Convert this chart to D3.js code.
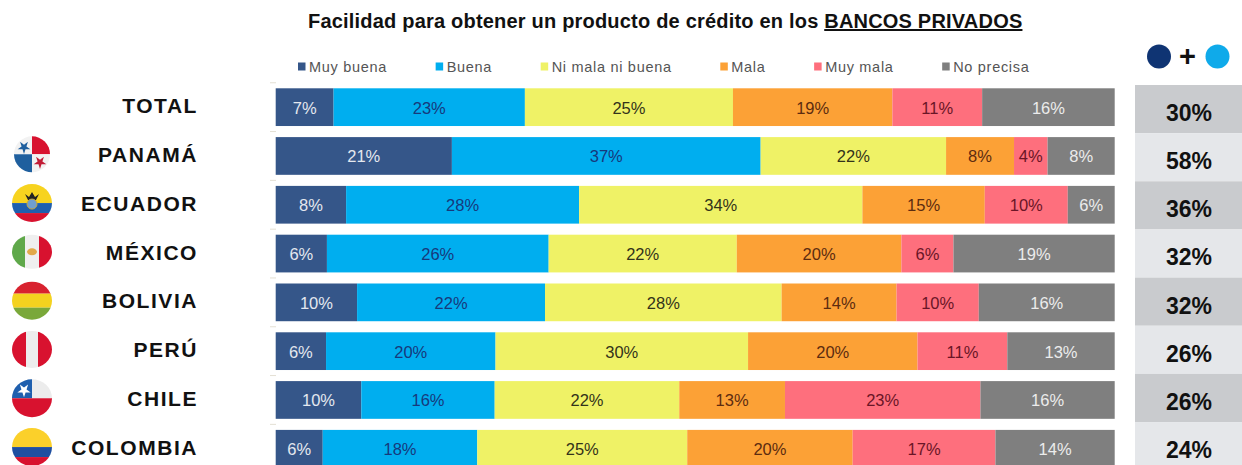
<!DOCTYPE html>
<html>
<head>
<meta charset="utf-8">
<script src="https://cdn.jsdelivr.net/npm/d3@7"></script>
<style>
  html, body { margin: 0; padding: 0; background: #fff; overflow: hidden; }
  svg { display: block; font-family: "Liberation Sans", Arial, sans-serif; }
</style>
</head>
<body>
<svg id="chart"></svg>
<script>
// datos
const paises = ['TOTAL', 'PANAMÁ', 'ECUADOR', 'MÉXICO', 'BOLIVIA', 'PERÚ', 'CHILE', 'COLOMBIA'];
const categorias = ['Muy buena', 'Buena', 'Ni mala ni buena', 'Mala', 'Muy mala', 'No precisa'];
const muyBuena = [6.9, 21.0, 8.4, 6.1, 9.7, 6.0, 10.2, 5.6];
const buena = [22.8, 36.8, 27.8, 26.4, 22.4, 20.2, 15.9, 18.4];
const niMalaNiBuena = [24.8, 22.1, 33.8, 22.4, 28.2, 30.1, 22.0, 25.0];
const mala = [19.0, 8.1, 14.6, 19.6, 13.7, 20.2, 12.6, 19.7];
const muyMala = [10.7, 4.0, 9.9, 6.2, 9.8, 10.7, 23.3, 17.0];
const noPrecisa = [15.8, 8.0, 5.6, 19.2, 16.2, 12.8, 16.0, 14.2];
const sumaPositiva = [30, 58, 36, 32, 32, 26, 26, 24];

const series = [muyBuena, buena, niMalaNiBuena, mala, muyMala, noPrecisa];
const colores = ['#355689', '#00aeef', '#eff266', '#fca136', '#fe6f7d', '#7f7f7f'];
const coloresTexto = ['#e4e8ef', '#17397c', '#33331a', '#5c2c10', '#6a1526', '#ececec'];

const width = 1242, height = 465;
const step = 48.8;      // filas de barras
const stepCol = 48.15;  // la columna derecha va un poco mas apretada

const svg = d3.select('#chart').attr('width', width).attr('height', height);

const xScale = d3.scaleLinear().domain([0, 1]).range([275.7, 1114.7]);
const yScale = d3.scaleBand().domain(paises)
  .range([82.76, 82.76 + step * paises.length])
  .paddingInner(0.227).paddingOuter(0.1135);
const yCol = d3.scaleBand().domain(paises).range([85, 85 + stepCol * paises.length]);

// titulo
const title = svg.append('text')
  .attr('x', 308).attr('y', 28)
  .attr('font-size', 20).attr('letter-spacing', 0.2).attr('font-weight', 'bold').attr('fill', '#111');
title.append('tspan').text('Facilidad para obtener un producto de crédito en los ');
title.append('tspan').attr('text-decoration', 'underline').text('BANCOS PRIVADOS');

// leyenda
let legendX = 298;
categorias.forEach((c, i) => {
  svg.append('rect').attr('x', legendX).attr('y', 62.5).attr('width', 7.5).attr('height', 8).attr('fill', colores[i]);
  const t = svg.append('text').attr('x', legendX + 11).attr('y', 71.5)
    .attr('font-size', 14.5).attr('letter-spacing', 0.7).attr('fill', '#555').text(c);
  legendX += 11 + t.node().getComputedTextLength() + 48.6;
});

// ticks del eje
svg.append('g').selectAll('line').data(paises).join('line')
  .attr('x1', 270).attr('x2', 276)
  .attr('y1', d => yScale(d) - step * 0.1135)
  .attr('y2', d => yScale(d) - step * 0.1135)
  .attr('stroke', '#e4e0d4');

// barras apiladas
const filas = paises.map((p, i) => {
  const o = { pais: p };
  categorias.forEach((c, j) => { o[c] = series[j][i]; });
  return o;
});
const stacked = d3.stack().keys(categorias).offset(d3.stackOffsetExpand)(filas);

const grupos = svg.append('g').selectAll('g').data(stacked).join('g')
  .attr('fill', (d, i) => colores[i]);
grupos.selectAll('rect').data(d => d).join('rect')
  .attr('x', d => xScale(d[0]))
  .attr('y', d => yScale(d.data.pais))
  .attr('width', d => xScale(d[1]) - xScale(d[0]))
  .attr('height', yScale.bandwidth());

svg.append('g').selectAll('g').data(stacked).join('g')
  .attr('fill', (d, i) => coloresTexto[i])
  .selectAll('text').data(d => d.map(v => ({ v, key: d.key }))).join('text')
  .attr('x', d => (xScale(d.v[0]) + xScale(d.v[1])) / 2)
  .attr('y', d => yScale(d.v.data.pais) + yScale.bandwidth() / 2 + 0.6)
  .attr('dy', '0.35em')
  .attr('text-anchor', 'middle')
  .attr('font-size', 16.5)
  .text(d => Math.round(d.v.data[d.key]) + '%');

// nombres de paises
const axisY = d3.axisLeft(yScale).tickSize(0).tickPadding(0);
const gAxis = svg.append('g').attr('transform', 'translate(198,-0.6)').call(axisY);
gAxis.select('.domain').remove();
gAxis.selectAll('text')
  .attr('font-family', '"Liberation Sans", Arial, sans-serif')
  .attr('font-size', 21).attr('font-weight', 'bold')
  .attr('letter-spacing', 1.55).attr('fill', '#111');

// columna derecha
svg.append('g').selectAll('rect').data(paises).join('rect')
  .attr('x', 1135).attr('y', d => yCol(d))
  .attr('width', 107).attr('height', yCol.bandwidth())
  .attr('fill', (d, i) => i % 2 ? '#e5e7ea' : '#c9cbce');
svg.append('g').selectAll('text').data(paises).join('text')
  .attr('x', 1189).attr('y', d => yCol(d) + 36)
  .attr('text-anchor', 'middle')
  .attr('font-size', 23).attr('font-weight', 'bold').attr('fill', '#111')
  .text((d, i) => sumaPositiva[i] + '%');

svg.append('circle').attr('cx', 1159).attr('cy', 56.5).attr('r', 12).attr('fill', '#0f3473');
svg.append('circle').attr('cx', 1217.5).attr('cy', 56.5).attr('r', 12).attr('fill', '#0faaea');
svg.append('text').attr('x', 1187.5).attr('y', 66).attr('text-anchor', 'middle')
  .attr('font-size', 29).attr('font-weight', 'bold').attr('fill', '#111').text('+');

// banderas
const flagSize = { 'PANAMÁ': [18, 18], 'ECUADOR': [20, 19], 'MÉXICO': [20, 17], 'BOLIVIA': [20, 19], 'PERÚ': [20, 18.5], 'CHILE': [20, 19], 'COLOMBIA': [20, 19] };
const star = (g, x, y, size, fill) => g.append('path')
  .attr('transform', `translate(${x},${y}) rotate(180)`)
  .attr('d', d3.symbol(d3.symbolStar, size)()).attr('fill', fill);
const box = (g, x, y, w, h, fill) => g.append('rect').attr('x', x).attr('y', y).attr('width', w).attr('height', h).attr('fill', fill);

const dibujaBandera = {
  'PANAMÁ': g => {
    box(g, -20, -20, 20, 20, '#f2f2f2'); box(g, 0, -20, 20, 20, '#d8122f');
    box(g, -20, 0, 20, 20, '#1f5f9e'); box(g, 0, 0, 20, 20, '#f2f2f2');
    star(g, -8, -7, 50, '#1f5f9e'); star(g, 8, 8, 50, '#c21c35');
  },
  'ECUADOR': g => {
    box(g, -20, -20, 40, 20, '#f7d31f'); box(g, -20, 0, 40, 10, '#1f5fae'); box(g, -20, 10, 40, 10, '#d8122f');
    g.append('path').attr('d', 'M-7,-9 L-3,-6 L0,-11 L3,-6 L7,-9 L4,-3 L-4,-3 Z').attr('fill', '#222');
    g.append('circle').attr('cy', 1).attr('r', 5).attr('fill', '#6f9fd0').attr('stroke', '#c9a83a');
  },
  'MÉXICO': g => {
    box(g, -20, -20, 13, 40, '#5fa84a'); box(g, -7, -20, 14, 40, '#efefef'); box(g, 7, -20, 13, 40, '#d8122f');
    g.append('ellipse').attr('rx', 5).attr('ry', 3.5).attr('fill', '#e2a94a');
  },
  'BOLIVIA': g => {
    box(g, -20, -20, 40, 13, '#d8222f'); box(g, -20, -7, 40, 14, '#f4d21f'); box(g, -20, 7, 40, 13, '#7aa83a');
  },
  'PERÚ': g => {
    box(g, -20, -20, 14, 40, '#d8122f'); box(g, -6, -20, 12, 40, '#ededed'); box(g, 6, -20, 14, 40, '#d8122f');
  },
  'CHILE': g => {
    box(g, -20, -20, 40, 20, '#ececec'); box(g, -20, -20, 20, 20, '#1f5fae'); box(g, -20, 0, 40, 20, '#d8122f');
    star(g, -8, -8, 55, '#fff');
  },
  'COLOMBIA': g => {
    box(g, -20, -20, 40, 20, '#fbd02a'); box(g, -20, 0, 40, 10, '#1f4fa0'); box(g, -20, 10, 40, 10, '#d8122f');
  }
};

const defs = svg.append('defs');
Object.keys(dibujaBandera).forEach((p, i) => {
  const s = flagSize[p];
  defs.append('clipPath').attr('id', 'flag' + i).append('ellipse').attr('rx', s[0]).attr('ry', s[1]);
  const g = svg.append('g')
    .attr('transform', `translate(32,${yScale(p) + yScale.bandwidth() / 2 - 1.7})`)
    .append('g').attr('clip-path', `url(#flag${i})`);
  dibujaBandera[p](g);
});
</script>
</body>
</html>
